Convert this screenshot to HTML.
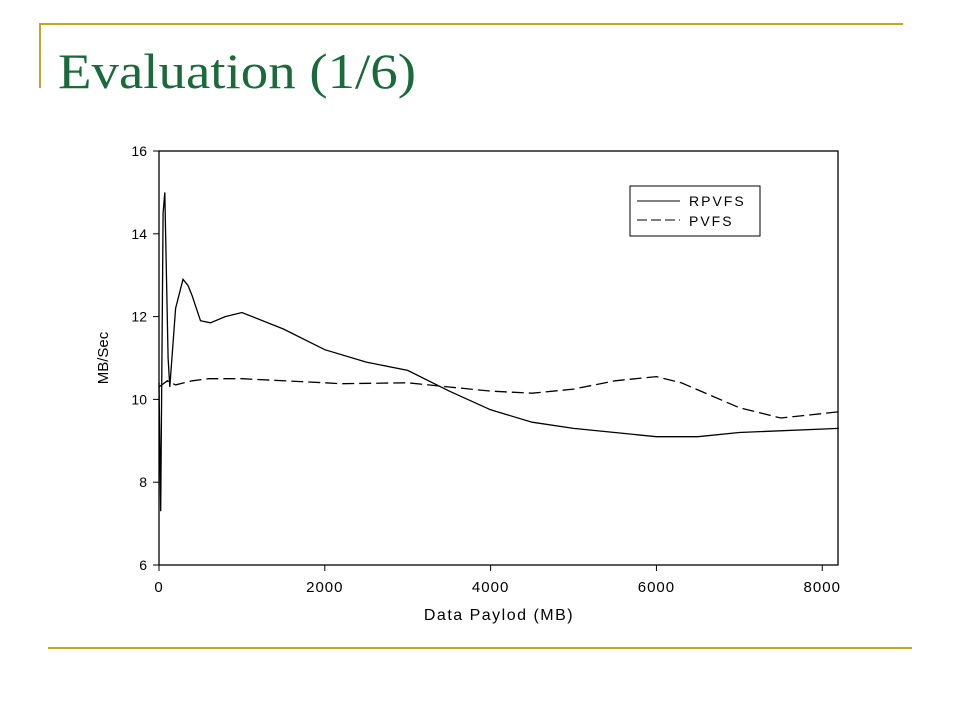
<!DOCTYPE html>
<html><head><meta charset="utf-8"><style>
body{margin:0;background:#fff;width:960px;height:720px;overflow:hidden}
svg{display:block}
</style></head><body>
<svg width="960" height="720">
<line x1="40" y1="24" x2="903" y2="24" stroke="#c9a227" stroke-width="2"/>
<line x1="40" y1="23" x2="40" y2="88" stroke="#c9a227" stroke-width="2"/>
<line x1="48" y1="648" x2="912" y2="648" stroke="#c9a227" stroke-width="2"/>
<text x="58" y="88" font-family="Liberation Serif, serif" font-size="50" fill="#1a6b3a" textLength="358" lengthAdjust="spacingAndGlyphs">Evaluation (1/6)</text>
<g id="chart"></g>
</svg>
<script>
const rpvfsX=[0,20,50,70,110,130,200,290,350,400,500,620,800,1000,1500,2000,2500,3000,3500,4000,4500,5000,6000,6500,7000,8200];
const rpvfsY=[10.4,7.3,14.5,15,11,10.3,12.2,12.9,12.75,12.5,11.9,11.85,12.0,12.1,11.7,11.2,10.9,10.7,10.2,9.75,9.45,9.3,9.1,9.1,9.2,9.3];
const pvfsX=[0,100,200,400,600,1000,2000,2200,3000,3500,4000,4500,5000,5500,6000,6300,7000,7500,8200];
const pvfsY=[10.3,10.45,10.35,10.45,10.5,10.5,10.4,10.38,10.4,10.3,10.2,10.15,10.25,10.45,10.55,10.4,9.8,9.55,9.7];
const xTicks=[0,2000,4000,6000,8000];
const yTicks=[6,8,10,12,14,16];
const NS="http://www.w3.org/2000/svg";
const g=document.getElementById('chart');
const L=159,R=838,T=151,B=565,XMAX=8190,YMIN=6,YMAX=16;
const sx=v=>L+(v/XMAX)*(R-L), sy=v=>B-(v-YMIN)/(YMAX-YMIN)*(B-T);
function mk(tag,attrs){const e=document.createElementNS(NS,tag);for(const k in attrs)e.setAttribute(k,attrs[k]);g.appendChild(e);return e;}
let e=mk('rect',{x:L,y:T,width:R-L,height:B-T,fill:'none',stroke:'#000','stroke-width':1.3});


xTicks.forEach(t=>{
 let l=mk('line',{x1:sx(t),x2:sx(t),y1:B,y2:B+6,stroke:'#000'});
 
 
 let tx=mk('text',{x:sx(t),y:B+27,'text-anchor':'middle','font-family':'Liberation Sans, sans-serif','font-size':15,'letter-spacing':'1'});
 tx.textContent=t;
 
 
});
yTicks.forEach(t=>{
 let l=mk('line',{x1:L-6,x2:L,y1:sy(t),y2:sy(t),stroke:'#000'});
 
 
 let tx=mk('text',{x:L-12,y:sy(t)+5,'text-anchor':'end','font-family':'Liberation Sans, sans-serif','font-size':14});
 tx.textContent=t;
 
 
});
let xt=mk('text',{x:499,y:620,'text-anchor':'middle','font-family':'Liberation Sans, sans-serif','font-size':16,'letter-spacing':'1.5'});
xt.textContent='Data Paylod (MB)';


let yt=mk('text',{x:0,y:0,transform:'translate(108,358) rotate(-90)','text-anchor':'middle','font-family':'Liberation Sans, sans-serif','font-size':15});
yt.textContent='MB/Sec';


const pts=(xs,ys)=>xs.map((x,i)=>sx(x).toFixed(1)+','+sy(ys[i]).toFixed(1)).join(' ');
let p1=mk('polyline',{points:pts(rpvfsX,rpvfsY),fill:'none',stroke:'#000','stroke-width':1.3});


let p2=mk('polyline',{points:pts(pvfsX,pvfsY),fill:'none',stroke:'#000','stroke-width':1.3,'stroke-dasharray':'12,5'});


let lb=mk('rect',{x:630,y:186,width:130,height:50,fill:'#fff',stroke:'#000'});


let l1=mk('line',{x1:637,x2:680,y1:201,y2:201,stroke:'#000'});


let t1=mk('text',{x:689,y:206,'font-family':'Liberation Sans, sans-serif','font-size':14,'letter-spacing':'2'});
t1.textContent='RPVFS';


let l2=mk('line',{x1:637,x2:680,y1:220,y2:220,stroke:'#000','stroke-dasharray':'10,4'});


let t2=mk('text',{x:689,y:226,'font-family':'Liberation Sans, sans-serif','font-size':14,'letter-spacing':'2'});
t2.textContent='PVFS';


</script>
</body></html>
